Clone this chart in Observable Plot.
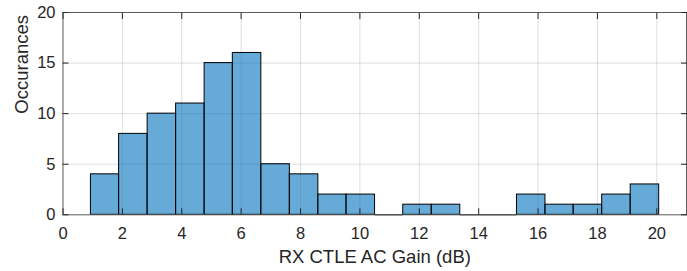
<!DOCTYPE html>
<html>
<head>
<meta charset="utf-8">
<script src="https://cdn.jsdelivr.net/npm/d3@7"></script>
<script src="https://cdn.jsdelivr.net/npm/@observablehq/plot@0.6"></script>
<style>
  html, body { margin: 0; padding: 0; background: #fff; }
  #chart svg { display: block; }
</style>
</head>
<body>
<div id="chart"></div>
<script>
// Bin edges (dB)
const binEdges = [0.94, 1.89, 2.85, 3.81, 4.77, 5.72, 6.68, 7.64, 8.60, 9.55, 10.51,
                  11.46, 12.42, 13.38, 14.34, 15.29, 16.25, 17.20, 18.16, 19.12, 20.08];
// Occurrences per bin
const counts = [4, 8, 10, 11, 15, 16, 5, 4, 2, 2, 0, 1, 1, 0, 0, 2, 1, 1, 2, 3];
const xTicks = [0, 2, 4, 6, 8, 10, 12, 14, 16, 18, 20];
const yTicks = [0, 5, 10, 15, 20];
const xLabel = "RX CTLE AC Gain (dB)";
const yLabel = "Occurances";

const bins = counts.map((c, i) => ({x1: binEdges[i], x2: binEdges[i + 1], count: c}));
const zeroBins = bins.filter(d => d.count === 0);

const font = "Liberation Sans, Arial, Helvetica, sans-serif";
const axisColor = "#262626";

const chart = Plot.plot({
  width: 687,
  height: 271,
  marginLeft: 62.5,
  marginRight: 1,
  marginTop: 12,
  marginBottom: 56.7,
  style: {fontFamily: font, fontSize: "16.5px", color: axisColor, background: "#fff"},
  x: {domain: [0, 21]},
  y: {domain: [0, 20]},
  marks: [
    Plot.gridX(xTicks.filter(d => d > 0), {stroke: axisColor, strokeOpacity: 0.15, strokeWidth: 1}),
    Plot.gridY(yTicks.filter(d => d > 0 && d < 20), {stroke: axisColor, strokeOpacity: 0.15, strokeWidth: 1}),
    Plot.rectY(bins, {x1: "x1", x2: "x2", y1: 0, y2: "count", fill: "#0072BD", fillOpacity: 0.6, stroke: "#000", strokeWidth: 1}),
    Plot.ruleY(zeroBins, {x1: "x1", x2: "x2", y: 0, stroke: "#000", strokeWidth: 1}),
    Plot.frame({stroke: "#5a5a5a", strokeWidth: 1}),
    Plot.axisX(xTicks, {anchor: "bottom", tickSize: -6, tickPadding: 18.5, label: null, stroke: axisColor, fill: axisColor, fontSize: 16.5}),
    Plot.axisX(xTicks, {anchor: "top", tickSize: -6, tickFormat: () => "", label: null, stroke: axisColor}),
    Plot.axisY(yTicks, {anchor: "left", tickSize: -6, tickPadding: 13.5, label: null, stroke: axisColor, fill: axisColor, fontSize: 16.5}),
    Plot.axisY(yTicks, {anchor: "right", tickSize: -6, tickFormat: () => "", label: null, stroke: axisColor}),
    Plot.text([xLabel], {frameAnchor: "bottom", dy: 42, text: d => d, fontSize: 18.5, fill: axisColor, lineAnchor: "middle"}),
    Plot.text([yLabel], {frameAnchor: "left", dx: -40.5, rotate: -90, text: d => d, fontSize: 18.5, fill: axisColor, lineAnchor: "middle"})
  ]
});
document.getElementById("chart").appendChild(chart);
</script>
</body>
</html>
